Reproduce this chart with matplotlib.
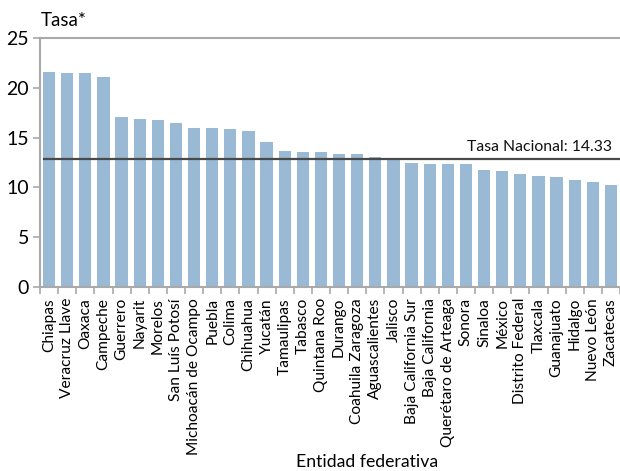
import numpy as np
import matplotlib
matplotlib.use("Agg")
from matplotlib import pyplot as plt

plt.rcParams['font.family'] = ['Lato', 'DejaVu Sans']

estados = ["Chiapas", "Veracruz Llave", "Oaxaca", "Campeche", "Guerrero", "Nayarit",
           "Morelos", "San Luís Potosí", "Michoacán de Ocampo", "Puebla", "Colima",
           "Chihuahua", "Yucatán", "Tamaulipas", "Tabasco", "Quintana Roo", "Durango",
           "Coahuila Zaragoza", "Aguascalientes", "Jalisco", "Baja California Sur",
           "Baja California", "Querétaro de Arteaga", "Sonora", "Sinaloa", "México",
           "Distrito Federal", "Tlaxcala", "Guanajuato", "Hidalgo", "Nuevo León",
           "Zacatecas"]
tasa = [21.6, 21.5, 21.5, 21.1, 17.1, 16.9, 16.8, 16.5, 16.0, 16.0, 15.9, 15.7,
        14.6, 13.7, 13.6, 13.6, 13.35, 13.35, 13.05, 12.8, 12.45, 12.35, 12.35,
        12.35, 11.75, 11.65, 11.35, 11.15, 11.05, 10.75, 10.55, 10.25]
linea_nacional = 12.85
etiqueta_nacional = "Tasa Nacional: 14.33"

gris = '#a9a9a9'

fig = plt.figure(figsize=(6.2, 4.71), dpi=100)
ax = fig.add_axes([40/620, (471-287)/471, 580/620, (287-38)/471])

x = np.arange(len(estados))
ax.bar(x, tasa, width=0.68, color='#99b9d5', zorder=2)
ax.plot([-0.3, len(estados) - 0.5], [linea_nacional, linea_nacional],
        color='#4a4a4a', lw=1.6, zorder=3)
ax.text(len(estados) - 0.95, linea_nacional + 0.55, etiqueta_nacional,
        ha='right', va='bottom', fontsize=11.3, color='#111111')

ax.set_xlim(-0.5, len(estados) - 0.5)
ax.set_ylim(0, 25)
ax.set_yticks([0, 5, 10, 15, 20, 25])
ax.tick_params(axis='y', labelsize=14, length=5, color=gris, width=1.2, pad=3)

ax.set_xticks(x)
ax.set_xticklabels(estados, rotation=90, fontsize=11.2)
ax.tick_params(axis='x', which='major', length=0, pad=8)
ax.set_xticks(np.arange(-0.5, len(estados), 1), minor=True)
ax.tick_params(axis='x', which='minor', length=5, color=gris, width=1.2)

ax.spines['right'].set_visible(False)
for s in ['left', 'bottom', 'top']:
    ax.spines[s].set_color(gris)
    ax.spines[s].set_linewidth(1.5)

fig.text(41/620, 1 - 20/471, "Tasa*", fontsize=13.5, ha='left', va='center')
fig.text(367/620, 1 - 462/471, "Entidad federativa", fontsize=12.7, ha='center', va='center')

fig.savefig("out.png", dpi=100)
